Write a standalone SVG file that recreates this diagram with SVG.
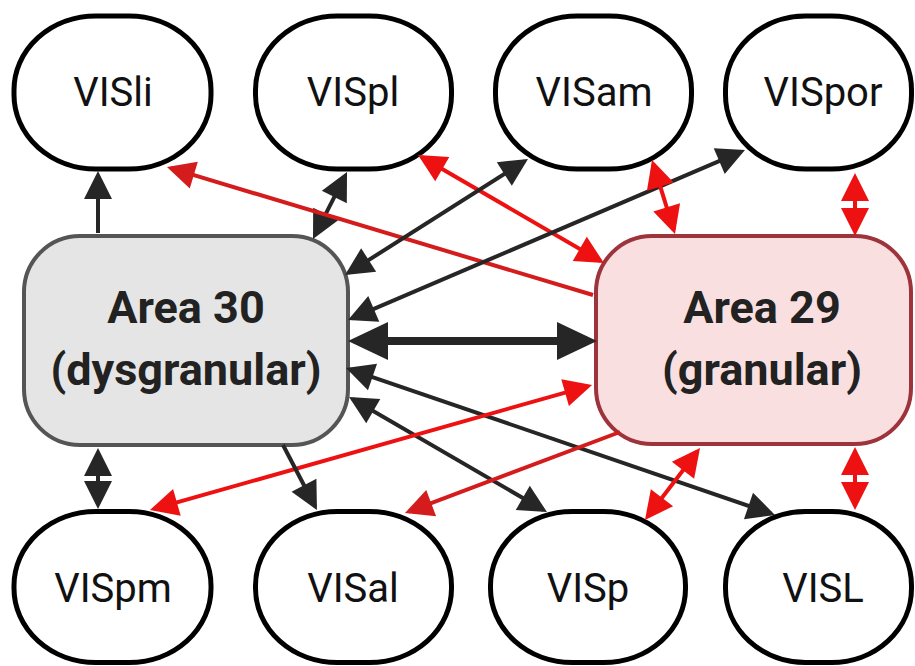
<svg xmlns="http://www.w3.org/2000/svg" width="915" height="666" viewBox="0 0 915 666">
  <style>
    .vis rect { fill: #ffffff; stroke: #000000; stroke-width: 5; }
    .vis text { font-family: Roboto, "Liberation Sans", sans-serif; font-size: 40px; fill: #111111; text-anchor: middle; }
    .area text { font-family: Roboto, "Liberation Sans", sans-serif; font-size: 45px; font-weight: bold; fill: #222222; text-anchor: middle; }
    .blk { stroke: #262626; stroke-width: 4; fill: none; }
    .red { stroke: #ee1111; stroke-width: 4; fill: none; }
    .dred { stroke: #d41c1c; stroke-width: 4; fill: none; }
    .thick { stroke: #262626; stroke-width: 8; fill: none; }
    marker { overflow: visible; }
  </style>
  <defs>
    <marker id="ah" markerUnits="userSpaceOnUse" markerWidth="28" markerHeight="28" refX="24" refY="14" orient="auto-start-reverse">
      <path d="M0,0 L28,14 L0,28 z" fill="#262626"/>
    </marker>
    <marker id="ahr" markerUnits="userSpaceOnUse" markerWidth="28" markerHeight="28" refX="24" refY="14" orient="auto-start-reverse">
      <path d="M0,0 L28,14 L0,28 z" fill="#ee1111"/>
    </marker>
    <marker id="ahd" markerUnits="userSpaceOnUse" markerWidth="28" markerHeight="28" refX="24" refY="14" orient="auto-start-reverse">
      <path d="M0,0 L28,14 L0,28 z" fill="#d41c1c"/>
    </marker>
    <marker id="ahb" markerUnits="userSpaceOnUse" markerWidth="40" markerHeight="38" refX="31" refY="19" orient="auto-start-reverse">
      <path d="M0,0 L40,19 L0,38 z" fill="#262626"/>
    </marker>
  </defs>

  <!-- cortical areas -->
  <g id="area30" class="area">
    <rect x="24" y="236" width="324" height="209" rx="56" ry="56" fill="#e5e5e5" stroke="#555555" stroke-width="4"/>
    <text x="186" y="323">Area 30</text>
    <text x="186" y="385">(dysgranular)</text>
  </g>
  <g id="area29" class="area">
    <rect x="596" y="236" width="315" height="208" rx="56" ry="56" fill="#f9dfe0" stroke="#9d333b" stroke-width="4"/>
    <text x="762" y="323">Area 29</text>
    <text x="762" y="385">(granular)</text>
  </g>

  <!-- visual areas, top row -->
  <g id="VISli" class="vis">
    <rect x="14" y="16" width="197" height="153" rx="82" ry="74"/>
    <text x="113" y="106">VISli</text>
  </g>
  <g id="VISpl" class="vis">
    <rect x="255.5" y="16" width="196" height="153" rx="82" ry="74"/>
    <text x="353" y="106">VISpl</text>
  </g>
  <g id="VISam" class="vis">
    <rect x="495.5" y="16" width="196" height="153" rx="82" ry="74"/>
    <text x="594" y="106">VISam</text>
  </g>
  <g id="VISpor" class="vis">
    <rect x="725.5" y="16" width="186" height="153" rx="80" ry="74"/>
    <text x="823" y="106">VISpor</text>
  </g>

  <!-- visual areas, bottom row -->
  <g id="VISpm" class="vis">
    <rect x="14" y="511.5" width="197" height="151" rx="82" ry="74"/>
    <text x="113" y="602">VISpm</text>
  </g>
  <g id="VISal" class="vis">
    <rect x="255.5" y="511.5" width="196" height="151" rx="82" ry="74"/>
    <text x="353" y="602">VISal</text>
  </g>
  <g id="VISp" class="vis">
    <rect x="490.5" y="511.5" width="195" height="151" rx="82" ry="74"/>
    <text x="588" y="602">VISp</text>
  </g>
  <g id="VISL" class="vis">
    <rect x="725.5" y="511.5" width="186" height="151" rx="80" ry="74"/>
    <text x="823" y="602">VISL</text>
  </g>

  <!-- connections -->
  <g id="connectors">
    <line class="blk" x1="98" y1="233" x2="98" y2="175" marker-end="url(#ah)"/>
    <line class="blk" x1="314.8" y1="235.4" x2="345.2" y2="175.6" marker-start="url(#ah)" marker-end="url(#ah)"/>
    <line class="dred" x1="593" y1="295" x2="170.8" y2="168.2" marker-end="url(#ahd)"/>
    <line class="red" x1="421.5" y1="157" x2="600.5" y2="261" marker-start="url(#ahr)" marker-end="url(#ahr)"/>
    <line class="blk" x1="524.6" y1="161.1" x2="348.4" y2="272.9" marker-start="url(#ah)" marker-end="url(#ah)"/>
    <line class="blk" x1="741.3" y1="151.6" x2="351.7" y2="318.4" marker-start="url(#ah)" marker-end="url(#ah)"/>
    <line class="red" x1="653.2" y1="163.8" x2="673.8" y2="230.2" marker-start="url(#ahr)" marker-end="url(#ahr)"/>
    <line class="red" x1="855" y1="177" x2="855" y2="232" marker-start="url(#ahr)" marker-end="url(#ahr)"/>
    <line class="thick" x1="357" y1="341" x2="588" y2="341" marker-start="url(#ahb)" marker-end="url(#ahb)"/>
    <line class="blk" x1="349.8" y1="369.3" x2="771.2" y2="513.7" marker-start="url(#ah)" marker-end="url(#ah)"/>
    <line class="blk" x1="352.5" y1="399" x2="543.5" y2="510" marker-start="url(#ah)" marker-end="url(#ah)"/>
    <line class="red" x1="588.2" y1="386.1" x2="153.8" y2="508.9" marker-start="url(#ahr)" marker-end="url(#ahr)"/>
    <line class="dred" x1="620" y1="432" x2="408.7" y2="511.6" marker-end="url(#ahd)"/>
    <line class="blk" x1="283" y1="445" x2="315.1" y2="506.5" marker-end="url(#ah)"/>
    <line class="blk" x1="98" y1="452" x2="98" y2="505" marker-start="url(#ah)" marker-end="url(#ah)"/>
    <line class="red" x1="697.6" y1="451.2" x2="647.4" y2="516.8" marker-start="url(#ahr)" marker-end="url(#ahr)"/>
    <line class="red" x1="855" y1="451" x2="855" y2="506" marker-start="url(#ahr)" marker-end="url(#ahr)"/>
  </g>
</svg>
